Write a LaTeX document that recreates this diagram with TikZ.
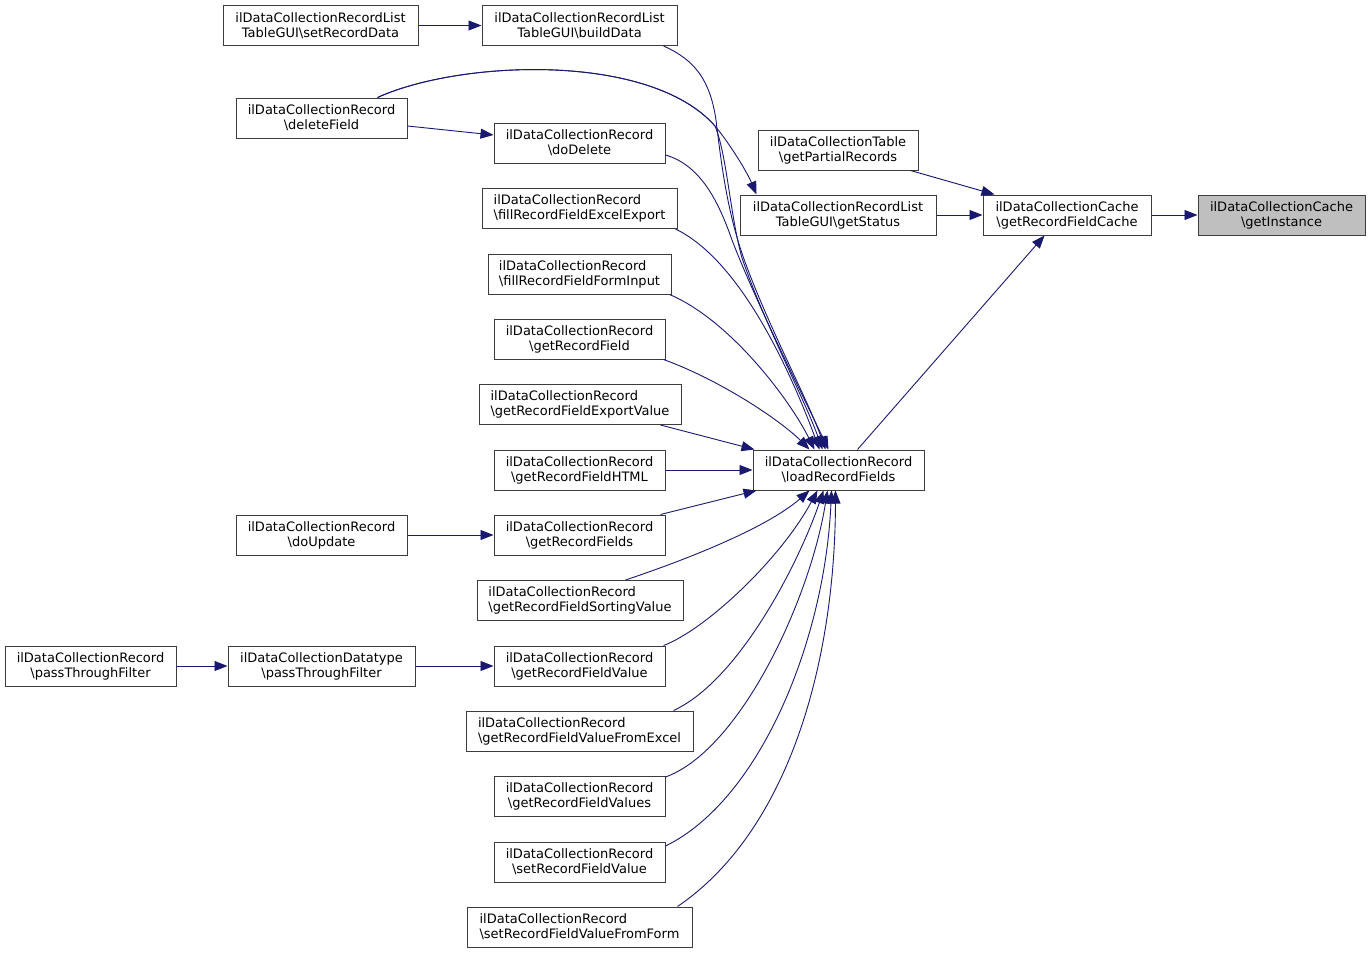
\documentclass[tikz,border=0pt]{standalone}
\usepackage{fontspec}
\setmainfont{DejaVu Sans}
\usetikzlibrary{arrows.meta,calc}
\definecolor{edgec}{RGB}{25,25,112}
\definecolor{boxc}{RGB}{60,60,60}
\definecolor{hilite}{RGB}{191,191,191}
\newcommand{\mybs}{\textbackslash}
\tikzset{
  fn/.style={draw=boxc,line width=1pt,fill=white,minimum height=40pt,inner sep=0pt,align=center,font=\fontsize{13}{15}\selectfont},
  la/.style={align=left},
  edge/.style={draw=edgec,line width=0.9pt,-{Triangle[length=13pt,width=10pt]}}
}
\begin{document}
\begin{tikzpicture}[x=1pt,y=-1pt]
\useasboundingbox (0,0) rectangle (1371,953);
\fill[white] (0,0) rectangle (1371,953);
% nodes
\node[fn,minimum width=195pt] (sRD) at (320.5,25.5) {ilDataCollectionRecordList\\TableGUI\mybs setRecordData};
\node[fn,minimum width=195pt] (bD) at (579.5,25.5) {ilDataCollectionRecordList\\TableGUI\mybs buildData};
\node[fn,minimum width=171pt] (dF) at (321.5,118) {ilDataCollectionRecord\\\mybs deleteField};
\node[fn,minimum width=171pt] (dD) at (579.5,143) {ilDataCollectionRecord\\\mybs doDelete};
\node[fn,minimum width=160pt] (gPR) at (838,150) {ilDataCollectionTable\\\mybs getPartialRecords};
\node[fn,minimum width=196pt] (gS) at (838,215) {ilDataCollectionRecordList\\TableGUI\mybs getStatus};
\node[fn,minimum width=168pt] (gRFC) at (1067,215) {ilDataCollectionCache\\\mybs getRecordFieldCache};
\node[fn,minimum width=167pt,fill=hilite] (gI) at (1281.5,215) {ilDataCollectionCache\\\mybs getInstance};
\node[fn,la,minimum width=195pt] (fEE) at (579.5,208.5) {ilDataCollectionRecord\\\mybs fillRecordFieldExcelExport};
\node[fn,la,minimum width=183pt] (fFI) at (579.5,274) {ilDataCollectionRecord\\\mybs fillRecordFieldFormInput};
\node[fn,minimum width=171pt] (gRF) at (579.5,339) {ilDataCollectionRecord\\\mybs getRecordField};
\node[fn,la,minimum width=202pt] (gEV) at (580,404.5) {ilDataCollectionRecord\\\mybs getRecordFieldExportValue};
\node[fn,minimum width=171pt] (lRF) at (838.5,470) {ilDataCollectionRecord\\\mybs loadRecordFields};
\node[fn,minimum width=171pt] (gH) at (579.5,470) {ilDataCollectionRecord\\\mybs getRecordFieldHTML};
\node[fn,minimum width=171pt] (dU) at (321.5,535) {ilDataCollectionRecord\\\mybs doUpdate};
\node[fn,minimum width=171pt] (gRFs) at (579.5,535) {ilDataCollectionRecord\\\mybs getRecordFields};
\node[fn,la,minimum width=206pt] (gSV) at (580,600.5) {ilDataCollectionRecord\\\mybs getRecordFieldSortingValue};
\node[fn,minimum width=171pt] (rPTF) at (90.5,666) {ilDataCollectionRecord\\\mybs passThroughFilter};
\node[fn,minimum width=187pt] (dPTF) at (321.5,666) {ilDataCollectionDatatype\\\mybs passThroughFilter};
\node[fn,minimum width=171pt] (gV) at (579.5,666) {ilDataCollectionRecord\\\mybs getRecordFieldValue};
\node[fn,la,minimum width=227pt] (gVE) at (579.5,731) {ilDataCollectionRecord\\\mybs getRecordFieldValueFromExcel};
\node[fn,minimum width=171pt] (gVs) at (579.5,796.5) {ilDataCollectionRecord\\\mybs getRecordFieldValues};
\node[fn,minimum width=171pt] (sV) at (579.5,862) {ilDataCollectionRecord\\\mybs setRecordFieldValue};
\node[fn,la,minimum width=225pt] (sVF) at (579.5,927) {ilDataCollectionRecord\\\mybs setRecordFieldValueFromForm};
% straight edges
\draw[edge] (sRD.east) -- (bD.west);
\draw[edge] ($(dF.east)+(0,8)$) -- ($(dD.west)+(0,-8)$);
\draw[edge] ($(gPR.south east)+(-8,0)$) -- ($(gRFC.north west)+(12,0)$);
\draw[edge] (gS.east) -- (gRFC.west);
\draw[edge] (gRFC.east) -- (gI.west);
\draw[edge] ($(lRF.north west)+(105,0)$) -- ($(gRFC.south west)+(62,0)$);
\draw[edge] (dU.east) -- (gRFs.west);
\draw[edge] (rPTF.east) -- (dPTF.west);
\draw[edge] (dPTF.east) -- (gV.west);
% curved edges
\draw[edge] ($(dF.north west)+(142,0)$) .. controls (460,60) and (650,52) .. (715,126)
   .. controls (730,144) and (747,172) .. ($(gS.north west)+(17,0)$);
\draw[edge] ($(dF.north west)+(142,0)$) .. controls (460,60) and (650,52) .. (715,126)
   .. controls (727,155) and (730,215) .. (742,258)
   .. controls (765,325) and (805,400) .. ($(lRF.north west)+(70,0)$);
\draw[edge] ($(bD.south east)+(-14,0)$) .. controls (695,60) and (710,80) .. (716,120)
   .. controls (722,170) and (728,215) .. (745,262)
   .. controls (770,330) and (808,400) .. ($(lRF.north west)+(73,0)$);
\draw[edge] ($(dD.east)+(0,12)$) .. controls (700,165) and (718,200) .. (732,240)
   .. controls (755,300) and (800,390) .. ($(lRF.north west)+(76,0)$);
\draw[edge] ($(fEE.south east)+(-2,0)$) .. controls (740,260) and (790,370) .. ($(lRF.north west)+(67,0)$);
\draw[edge] ($(fFI.south east)+(-2,0)$) .. controls (730,320) and (790,400) .. ($(lRF.north west)+(62,0)$);
\draw[edge] ($(gRF.south east)+(-2,0)$) .. controls (720,380) and (780,420) .. ($(lRF.north west)+(57,0)$);
\draw[edge] ($(gEV.south east)+(-21,0)$) -- ($(lRF.north west)+(2,0)$);
\draw[edge] (gH.east) -- (lRF.west);
\draw[edge] ($(gRFs.north east)+(-5,0)$) -- ($(lRF.south west)+(4,0)$);
\draw[edge] ($(gSV.north west)+(149,0)$) .. controls (700,555) and (770,525) .. ($(lRF.south west)+(57,0)$);
\draw[edge] ($(gV.north east)+(-2,0)$) .. controls (705,630) and (780,560) .. ($(lRF.south west)+(65,0)$);
\draw[edge] ($(gVE.north east)+(-20,0)$) .. controls (740,680) and (800,560) .. ($(lRF.south west)+(71,0)$);
\draw[edge] ($(gVs.north east)+(0,1)$) .. controls (740,750) and (810,600) .. ($(lRF.south west)+(75,0)$);
\draw[edge] ($(sV.east)+(0,-16)$) .. controls (760,800) and (825,640) .. ($(lRF.south west)+(79,0)$);
\draw[edge] ($(sVF.north east)+(-15,0)$) .. controls (790,830) and (835,660) .. ($(lRF.south west)+(83,0)$);
\end{tikzpicture}
\end{document}
